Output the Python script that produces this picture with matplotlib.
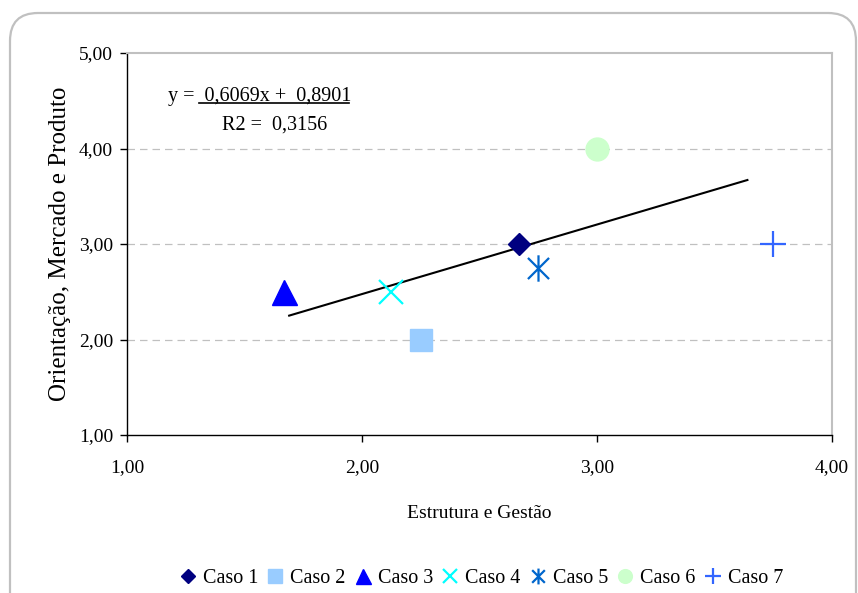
import matplotlib
matplotlib.use("Agg")
import matplotlib.pyplot as plt
from matplotlib.patches import FancyBboxPatch
from matplotlib.lines import Line2D
from matplotlib.path import Path
from matplotlib.ticker import FuncFormatter

plt.rcParams['font.family'] = ['Liberation Serif', 'DejaVu Serif']

# ---- data ----
cases = ["Caso 1", "Caso 2", "Caso 3", "Caso 4", "Caso 5", "Caso 6", "Caso 7"]
x_vals = [2.67, 2.25, 1.67, 2.125, 2.75, 3.00, 3.75]
y_vals = [3.00, 2.00, 2.50, 2.50, 2.75, 4.00, 3.00]
trend_x = [1.69, 3.64]
trend_y = [2.25, 3.67]
equation = "y =  0,6069x +  0,8901"
r2_text = "R2 =  0,3156"
x_ticks = [1.0, 2.0, 3.0, 4.0]
y_ticks = [1.0, 2.0, 3.0, 4.0, 5.0]

# ---- styles ----
star_path = Path([(0, -1), (0, 1), (-0.8, -0.8), (0.8, 0.8), (-0.8, 0.8), (0.8, -0.8)],
                 [Path.MOVETO, Path.LINETO, Path.MOVETO, Path.LINETO, Path.MOVETO, Path.LINETO])
styles = [
    dict(marker='D', color='#000080', ms=11.5),
    dict(marker='s', color='#99CCFF', ms=16.5),
    dict(marker='^', color='#0000FF', ms=18),
    dict(marker='x', color='#00FFFF', ms=17, mew=1.6),
    dict(marker=star_path, color='#0066CC', ms=19, mew=1.6),
    dict(marker='o', color='#CCFFCC', ms=16.5),
    dict(marker='+', color='#3366FF', ms=19, mew=1.6),
]

W, H = 858, 593
fig = plt.figure(figsize=(W / 100, H / 100), dpi=100)
fig.patch.set_facecolor('white')

# outer rounded frame
frame = FancyBboxPatch((0.10, -0.4), 8.46, 6.2, boxstyle="round,pad=0,rounding_size=0.28",
                       transform=fig.dpi_scale_trans, facecolor='none',
                       edgecolor='#c0c0c0', linewidth=1.6, zorder=-1)
fig.patches.append(frame)

ax = fig.add_axes([127 / W, 1 - 435 / H, (832 - 127) / W, (435 - 53) / H])
ax.set_facecolor('none')

handles = []
for xv, yv, st, lab in zip(x_vals, y_vals, styles, cases):
    h, = ax.plot([xv], [yv], linestyle='none', marker=st['marker'], ms=st['ms'],
                 color=st['color'], mec=st['color'], mfc=st['color'],
                 mew=st.get('mew', 1.0), label=lab, zorder=3)
    handles.append(h)

ax.plot(trend_x, trend_y, color='black', lw=1.5, zorder=2)

ax.set_xlim(1, 4)
ax.set_ylim(1, 5)
ax.set_xticks(x_ticks)
ax.set_yticks(y_ticks)
fmt = FuncFormatter(lambda v, p: f"{v:.2f}".replace('.', ','))
ax.xaxis.set_major_formatter(fmt)
ax.yaxis.set_major_formatter(fmt)
ax.tick_params(axis='both', direction='out', length=5, width=1, labelsize=14, pad=5, colors='black')
ax.tick_params(axis='x', pad=12)

for g in [2.0, 3.0, 4.0]:
    ax.axhline(g, color='#c0c0c0', lw=0.9, ls=(0, (6, 4)), zorder=1)

for s in ['left', 'bottom']:
    ax.spines[s].set_color('black')
    ax.spines[s].set_linewidth(1.0)
for s in ['top', 'right']:
    ax.spines[s].set_color('#c0c0c0')
    ax.spines[s].set_linewidth(1.5)

ax.set_xlabel("Estrutura e Gestão", fontsize=14, labelpad=21)
ax.set_ylabel("Orientação, Mercado e Produto", fontsize=18, labelpad=6)

# regression equation
fig.text(168 / W, 1 - 96 / H, equation, fontsize=14.5, ha='left', va='center')
fig.add_artist(Line2D([199 / W, 349 / W], [1 - 103 / H, 1 - 103 / H], color='black', lw=1.2))
fig.text(275 / W, 1 - 125 / H, r2_text, fontsize=14.5, ha='center', va='center')

fig.legend(handles=handles, labels=cases, loc='center', bbox_to_anchor=(481 / W, 1 - 578 / H),
           ncol=7, frameon=False, fontsize=14.5, markerscale=0.6, handlelength=0.9,
           handletextpad=0.3, columnspacing=0.4, borderaxespad=0)

fig.savefig("out.png", dpi=100)
